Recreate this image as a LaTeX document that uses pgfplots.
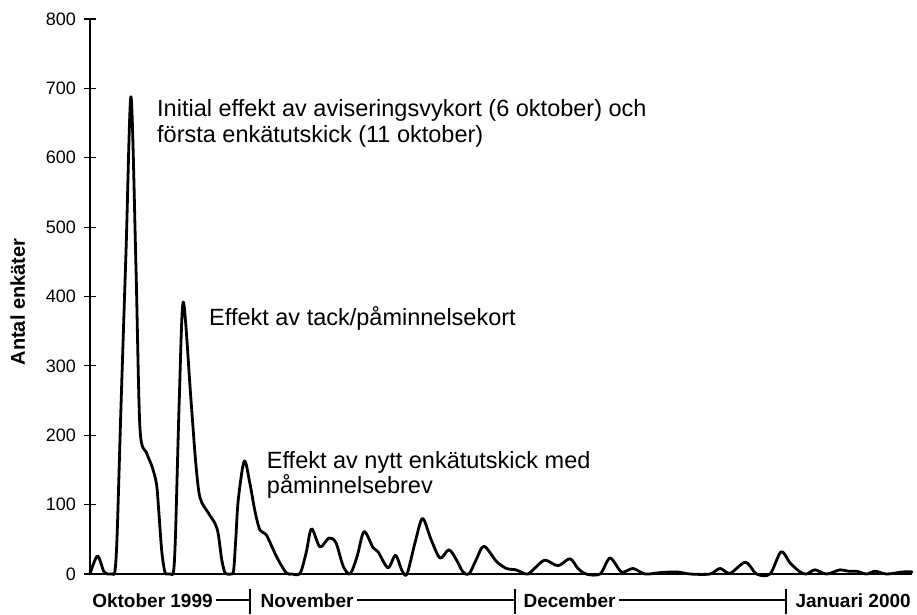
\documentclass[border=0pt]{standalone}
\usepackage{fontspec}
\setmainfont{Liberation Sans}
\usepackage{pgfplots}
\pgfplotsset{compat=1.18}
\usetikzlibrary{calc}
\begin{document}
\begin{tikzpicture}
\begin{axis}[
  scale only axis, width=822pt, height=555pt,
  at={(0,0)}, anchor=south west,
  xmin=0, xmax=95.58, ymin=0, ymax=800,
  axis x line=bottom, axis y line=left,
  axis line style={-, line width=1.2pt},
  xtick=\empty,
  ytick={0,100,...,800},
  tick align=center, major tick length=12pt,
  tick style={line width=1.2pt, black},
  yticklabel style={font=\fontsize{18}{18}\selectfont, inner sep=0pt, anchor=east, xshift=-8pt},
  /pgf/number format/assume math mode=true,
  clip=false,
]
\addplot[black, line width=2.8pt, line join=round, line cap=round, smooth, tension=0.5] coordinates {
(0,0) (0.87,26) (1.63,3) (2.21,0) (2.6,0) (2.9,4) (3.15,55) (3.6,240) (4.2,470)
(4.77,688) (5.35,440) (5.81,210) (6.57,175) (7.21,155) (7.73,130) (8.0,90)
(8.35,32) (8.7,3) (8.95,0) (9.35,0) (9.72,4) (9.95,60) (10.38,251) (10.85,392)
(11.74,251) (12.3,160) (12.79,110) (13.76,88) (14.53,73) (14.91,58) (15.3,22)
(15.65,3) (15.95,0) (16.4,0) (16.7,5) (16.95,50) (17.24,107) (17.94,163)
(18.6,130) (19.19,90) (19.77,63) (20.52,56) (21.69,25) (22.79,2)
(23.49,0) (24.42,1) (25.12,30) (25.76,65) (26.74,39) (27.79,52) (28.60,45)
(29.42,12) (30.23,0) (31.05,25) (31.86,61) (32.91,38) (33.49,32) (34.65,9)
(35.52,27) (36.28,5) (36.86,0) (37.79,45) (38.66,80) (39.65,50) (40.70,23)
(41.74,35) (42.62,20) (43.37,3) (44.07,0) (44.88,20) (45.81,40) (47.27,18)
(48.43,8) (49.53,6) (50.23,2) (50.93,0) (51.86,10) (52.91,20) (54.42,12)
(55.81,22) (56.74,8) (57.67,0) (59.30,0) (60.47,23) (61.80,3) (63.14,8)
(64.53,0) (66.28,2) (68.20,3) (69.77,0) (72.09,0) (73.26,8) (74.42,1)
(76.22,17) (77.50,0) (79.07,0) (80.35,32) (81.40,16) (82.56,3) (83.31,0)
(84.30,6) (85.64,0) (87.21,6) (88.14,4) (89.13,4) (90.29,0) (91.28,4)
(92.62,0) (94.53,3) (95.58,3)
};
\node[anchor=base west, inner sep=0, font=\fontsize{23.5}{23.5}\selectfont] at (axis cs:7.79,660) {Initial effekt av aviseringsvykort (6 oktober) och};
\node[anchor=base west, inner sep=0, font=\fontsize{23.5}{23.5}\selectfont] at (axis cs:7.79,622) {första enkätutskick (11 oktober)};
\node[anchor=base west, inner sep=0, font=\fontsize{23.5}{23.5}\selectfont] at (axis cs:13.84,358.8) {Effekt av tack/påminnelsekort};
\node[anchor=base west, inner sep=0, font=\fontsize{23.5}{23.5}\selectfont] at (axis cs:20.55,152.7) {Effekt av nytt enkätutskick med};
\node[anchor=base west, inner sep=0, font=\fontsize{23.5}{23.5}\selectfont] at (axis cs:20.55,116.7) {påminnelsebrev};
\end{axis}
\node[rotate=90, anchor=base, inner sep=0, font=\bfseries\fontsize{20}{20}\selectfont] at (-65pt,272pt) {Antal enkäter};
\begin{scope}[every node/.style={anchor=base west, inner sep=0, font=\bfseries\fontsize{19}{19}\selectfont}, line width=1.2pt]
\node (okt) at (1.7pt,-33pt) {Oktober 1999};
\node (nov) at (170pt,-33pt) {November};
\node (dec) at (433pt,-33pt) {December};
\node (jan) at (705pt,-33pt) {Januari 2000};
\draw let \p1=(okt.east) in (\x1+3pt,-26pt) -- (160pt,-26pt);
\draw let \p1=(nov.east) in (\x1+3pt,-26pt) -- (425pt,-26pt);
\draw let \p1=(dec.east) in (\x1+3pt,-26pt) -- (696pt,-26pt);
\draw (160pt,-15pt) -- (160pt,-40pt);
\draw (425pt,-15pt) -- (425pt,-40pt);
\draw (696pt,-15pt) -- (696pt,-40pt);
\end{scope}
\pgfresetboundingbox
\path (-90pt,-40pt) rectangle (827pt,574pt);
\end{tikzpicture}
\end{document}
